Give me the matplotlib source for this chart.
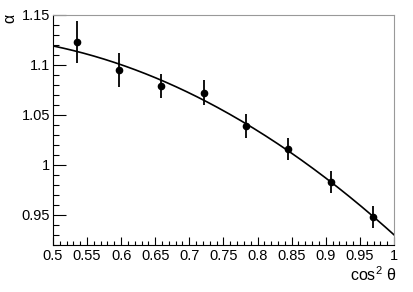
import matplotlib
matplotlib.use("Agg")
import matplotlib.pyplot as plt
import numpy as np
from matplotlib.ticker import MultipleLocator, FuncFormatter

plt.rcParams['font.family'] = ['Liberation Sans', 'DejaVu Sans']
plt.rcParams['mathtext.fontset'] = 'custom'
plt.rcParams['mathtext.rm'] = 'Liberation Sans'
plt.rcParams['mathtext.it'] = 'Liberation Sans'

cos2theta = [0.535, 0.597, 0.659, 0.721, 0.783, 0.845, 0.907, 0.969]
alpha = [1.123, 1.095, 1.079, 1.072, 1.039, 1.016, 0.983, 0.948]
alpha_err = [0.021, 0.017, 0.012, 0.0125, 0.012, 0.011, 0.011, 0.011]

# quadratic fit, as in the original
x = np.array(cos2theta)
y = np.array(alpha)
e = np.array(alpha_err)
coef = np.polyfit(x, y, 2, w=1.0 / e)
xf = np.linspace(0.5, 1.0, 200)
yf = np.polyval(coef, xf)

fig = plt.figure(figsize=(4.13, 2.92), dpi=100)
ax = fig.add_axes([0.128, 0.161, 0.826, 0.788])

ax.plot(xf, yf, color='black', lw=1.2)
ax.errorbar(x, y, yerr=e, fmt='o', color='black', ms=4.5, elinewidth=1.3, capsize=0)

ax.set_xlim(0.5, 1.0)
ax.set_ylim(0.92, 1.15)

ax.xaxis.set_major_locator(MultipleLocator(0.05))
ax.xaxis.set_minor_locator(MultipleLocator(0.01))
ax.yaxis.set_major_locator(MultipleLocator(0.05))
ax.yaxis.set_minor_locator(MultipleLocator(0.01))
fmt = FuncFormatter(lambda v, p: "%g" % round(v, 3))
ax.xaxis.set_major_formatter(fmt)
ax.yaxis.set_major_formatter(fmt)

ax.tick_params(which='both', direction='in', top=False, right=False, labelsize=10.5, width=0.8)
ax.tick_params(axis='x', which='major', length=6, pad=3)
ax.tick_params(axis='x', which='minor', length=3)
ax.tick_params(axis='y', which='major', length=9, pad=2)
ax.tick_params(axis='y', which='minor', length=4.5)

for s in ['top', 'right']:
    ax.spines[s].set_color('#999999')
    ax.spines[s].set_linewidth(0.8)
for s in ['left', 'bottom']:
    ax.spines[s].set_linewidth(0.8)

fig.text(10 / 413, 1 - 18 / 292, "α", rotation=90, fontsize=11.5, ha='center', va='center')
fig.text(396 / 413, 1 - 275 / 292, r"cos$^{2}$ θ", fontsize=11.5, ha='right', va='center')

plt.savefig("out.png")
